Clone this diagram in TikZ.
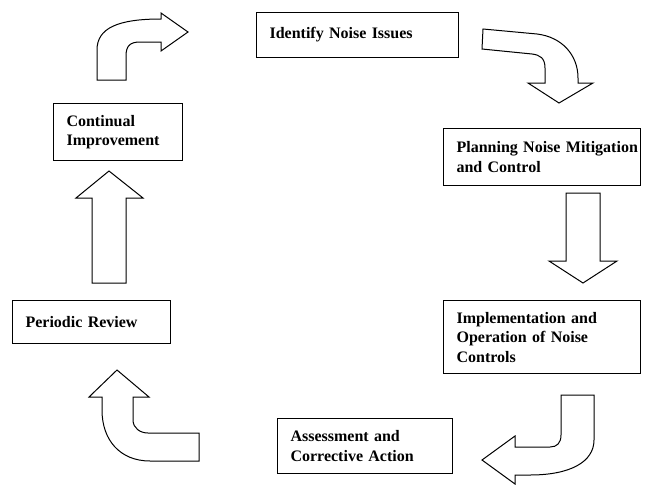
\documentclass[tikz,border=0pt]{standalone}
\usepackage{fontspec}
\setmainfont{Liberation Serif}
\usepackage{tikz}

\tikzset{
  stage/.style={draw, line width=1.1pt, inner xsep=0pt, inner ysep=0pt, anchor=north west,
    align=left, font=\fontsize{16}{19.5}\selectfont\bfseries,
    execute at begin node={\leftskip=13pt}},
  blockarrow/.style={draw, line width=1pt, fill=white, line join=miter}
}

\begin{document}
\begin{tikzpicture}[x=1pt,y=-1pt]
\useasboundingbox (0,0) rectangle (653,485);

\node[stage, text width=202pt, minimum height=45pt] (identify) at (256,12) {Identify Noise Issues};
\node[stage, text width=197pt, minimum height=57pt] (planning) at (443,128) {Planning Noise Mitigation\\and Control};
\node[stage, text width=197pt, minimum height=73pt] (implement) at (443,300) {Implementation and\\Operation of Noise\\Controls};
\node[stage, text width=175pt, minimum height=55pt] (assess) at (277,418) {Assessment and\\Corrective Action};
\node[stage, text width=158pt, minimum height=43pt] (review) at (12,300) {Periodic Review};
\node[stage, text width=129pt, minimum height=57pt] (improve) at (53,103) {Continual\\Improvement};

\draw[blockarrow] (97,80) -- (97,50) .. controls (97,28) and (118,19) .. (161,19) -- (161,13) -- (188,32) -- (161,51) -- (161,42) -- (140,42) .. controls (130,42) and (126,46) .. (126,56) -- (126,80) -- cycle;
\draw[blockarrow] (483,29) -- (537,34) .. controls (562,37) and (578,55) .. (578,78) -- (578,83) -- (593,83) -- (559,103) -- (528,83) -- (545,83) -- (545,68) .. controls (545,58) and (540,55) .. (532,54) -- (482,49) -- cycle;
\draw[blockarrow] (566,193) -- (600,193) -- (600,261) -- (617,261) -- (583,283) -- (549,261) -- (566,261) -- cycle;
\draw[blockarrow] (561,395) -- (594,395) -- (594,440) .. controls (594,462) and (570,475) .. (530,475) -- (515,475) -- (515,484) -- (482,460) -- (515,436) -- (515,447) -- (550,447) .. controls (557,447) and (561,443) .. (561,435) -- cycle;
\draw[blockarrow] (199,461) -- (150,461) .. controls (120,461) and (102,440) .. (102,410) -- (102,397) -- (89,397) -- (117,370) -- (149,397) -- (133,397) -- (133,420) .. controls (133,428) and (140,433) .. (148,433) -- (199,433) -- cycle;
\draw[blockarrow] (92,283) -- (92,198) -- (76,198) -- (109,171) -- (143,198) -- (126,198) -- (126,283) -- cycle;
\end{tikzpicture}
\end{document}
